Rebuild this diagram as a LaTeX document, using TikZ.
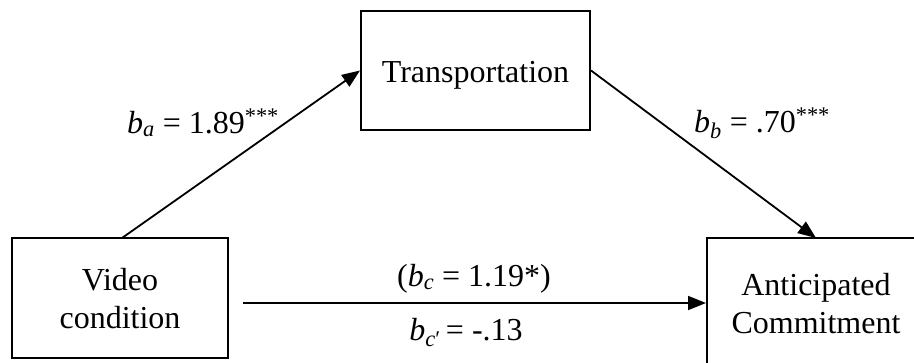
\documentclass[tikz,border=0pt]{standalone}
\usepackage{fontspec}
\setmainfont{Liberation Serif}
\usetikzlibrary{arrows.meta}
\begin{document}
\begin{tikzpicture}[x=1pt,y=-1pt,
  box/.style={draw, line width=2pt, minimum width=216pt, inner sep=0pt, align=center,
    font=\fontsize{32}{38}\selectfont},
  lbl/.style={anchor=base, inner sep=0pt, font=\fontsize{32}{38}\selectfont},
  conn/.style={line width=1.8pt, -{Triangle[length=18pt,width=14pt]}}]
\useasboundingbox (0,0) rectangle (914,362);
\clip (0,0) rectangle (914,362);
\fill[white] (0,0) rectangle (914,362);
\node[box, minimum height=120pt] (video) at (120,298) {};
\node[box, minimum width=229pt, minimum height=119pt] (trans) at (475.5,70.5) {};
\node[box, minimum height=130pt] (antic) at (815,303) {};
\node[lbl] (vt1) at (120,290) {Video};
\node[lbl] (vt2) at (120,328) {condition};
\node[lbl] (tt) at (475.5,82) {Transportation};
\node[lbl] (at1) at (816,295) {Anticipated};
\node[lbl] (at2) at (816,333) {Commitment};
\coordinate (vtop) at (122,238);
\coordinate (aend) at (816,238);
\coordinate (hstart) at (243,303);
\coordinate (hend) at (706,303);
\draw[conn] (vtop) -- (trans.west);
\draw[conn] (trans.east) -- (aend);
\draw[conn] (hstart) -- (hend);
\node[lbl] (la) at (203,133) {\textit{b}\textsubscript{\textit{a}} = 1.89\textsuperscript{***}};
\node[lbl] (lb) at (762,132) {\textit{b}\textsubscript{\textit{b}} = .70\textsuperscript{***}};
\node[lbl] (lc) at (474,286) {(\textit{b}\textsubscript{\textit{c}} = 1.19*)};
\node[lbl] (ld) at (466,340) {\textit{b}\textsubscript{\textit{c}′}\,= -.13};
\end{tikzpicture}
\end{document}
